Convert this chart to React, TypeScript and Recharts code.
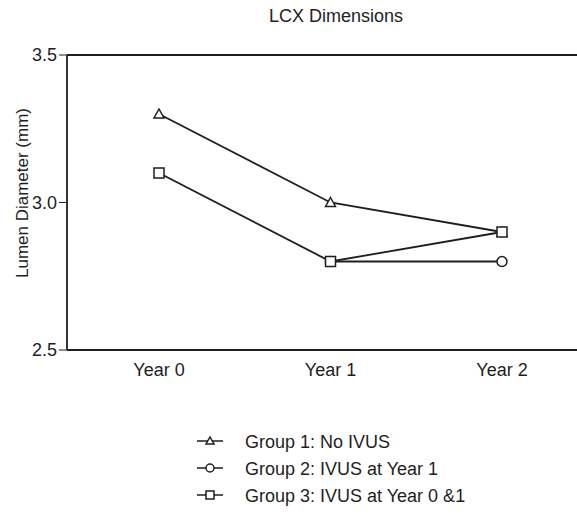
import React from "react";
import { LineChart, Line, XAxis, YAxis, ReferenceLine, Label } from "recharts";

const years = ["Year 0", "Year 1", "Year 2"];
const group1 = [3.3, 3.0, 2.9];
const group2 = [null, 2.8, 2.8];
const group3 = [3.1, 2.8, 2.9];
const yTicks = [2.5, 3.0, 3.5];
const seriesNames = ["Group 1: No IVUS", "Group 2: IVUS at Year 1", "Group 3: IVUS at Year 0 &1"];
const shapes = ["triangle", "circle", "square"];

const data = years.map((year, i) => ({
  year,
  g1: group1[i],
  g2: group2[i],
  g3: group3[i],
}));

const INK = "#1e1e1e";
const FONT = "'Liberation Sans', Arial, sans-serif";

const Marker = ({ shape, cx, cy, s = 5 }: { shape: string; cx: number; cy: number; s?: number }) => {
  if (shape === "triangle") {
    return <path d={`M${cx},${cy - s} L${cx + s},${cy + s - 1} L${cx - s},${cy + s - 1} Z`} fill="#fff" stroke={INK} strokeWidth={1.5} />;
  }
  if (shape === "circle") {
    return <circle cx={cx} cy={cy} r={s} fill="#fff" stroke={INK} strokeWidth={1.5} />;
  }
  return <rect x={cx - s} y={cy - s} width={2 * s} height={2 * s} fill="#fff" stroke={INK} strokeWidth={1.5} />;
};

const makeDot = (shape: string) => (props: any) => {
  const { cx, cy, value, index } = props;
  if (value == null || cy == null || isNaN(cy)) return <g key={`${shape}-${index}`} />;
  return (
    <g key={`${shape}-${index}`}>
      <Marker shape={shape} cx={cx} cy={cy} />
    </g>
  );
};

export default function App() {
  return (
    <div style={{ position: "absolute", left: 0, top: 0, width: 577, height: 519, background: "#fff", fontFamily: FONT }}>
      <div style={{ position: "absolute", left: 236, width: 200, top: 6, textAlign: "center", fontSize: 18, color: INK }}>
        LCX Dimensions
      </div>
      <LineChart width={577} height={519} data={data} margin={{ top: 55, right: 0, left: 0, bottom: 139 }}>
        <XAxis
          dataKey="year"
          padding={{ left: 92, right: 75 }}
          height={30}
          tickLine={false}
          axisLine={{ stroke: INK, strokeWidth: 1.8 }}
          tick={{ fill: INK, fontSize: 18, fontFamily: FONT }}
          tickMargin={7}
        />
        <YAxis
          domain={[2.5, 3.5]}
          ticks={yTicks}
          width={67}
          tickFormatter={(v: number) => v.toFixed(1)}
          tickSize={8}
          tickMargin={2}
          axisLine={{ stroke: INK, strokeWidth: 1.8 }}
          tickLine={{ stroke: INK }}
          tick={{ fill: INK, fontSize: 18, fontFamily: FONT }}
        >
          <Label
            content={() => (
              <text x={28} y={193} transform="rotate(-90 28 193)" textAnchor="middle" fill={INK} fontSize={17} fontFamily={FONT}>
                Lumen Diameter (mm)
              </text>
            )}
          />
        </YAxis>
        <ReferenceLine y={3.5} stroke={INK} strokeWidth={1.8} />
        <Line dataKey="g1" stroke={INK} strokeWidth={1.8} dot={makeDot("triangle")} isAnimationActive={false} />
        <Line dataKey="g2" stroke={INK} strokeWidth={1.8} dot={makeDot("circle")} isAnimationActive={false} />
        <Line dataKey="g3" stroke={INK} strokeWidth={1.8} dot={makeDot("square")} isAnimationActive={false} />
      </LineChart>
      <svg style={{ position: "absolute", left: 0, top: 0 }} width={577} height={519}>
        {seriesNames.map((name, i) => {
          const y = 441 + i * 27;
          return (
            <g key={name}>
              <line x1={197} x2={223} y1={y} y2={y} stroke={INK} strokeWidth={1.5} />
              <Marker shape={shapes[i]} cx={210} cy={y} s={4} />
              <text x={245} y={y + 6.5} fill={INK} fontSize={18} fontFamily={FONT}>
                {name}
              </text>
            </g>
          );
        })}
      </svg>
    </div>
  );
}
